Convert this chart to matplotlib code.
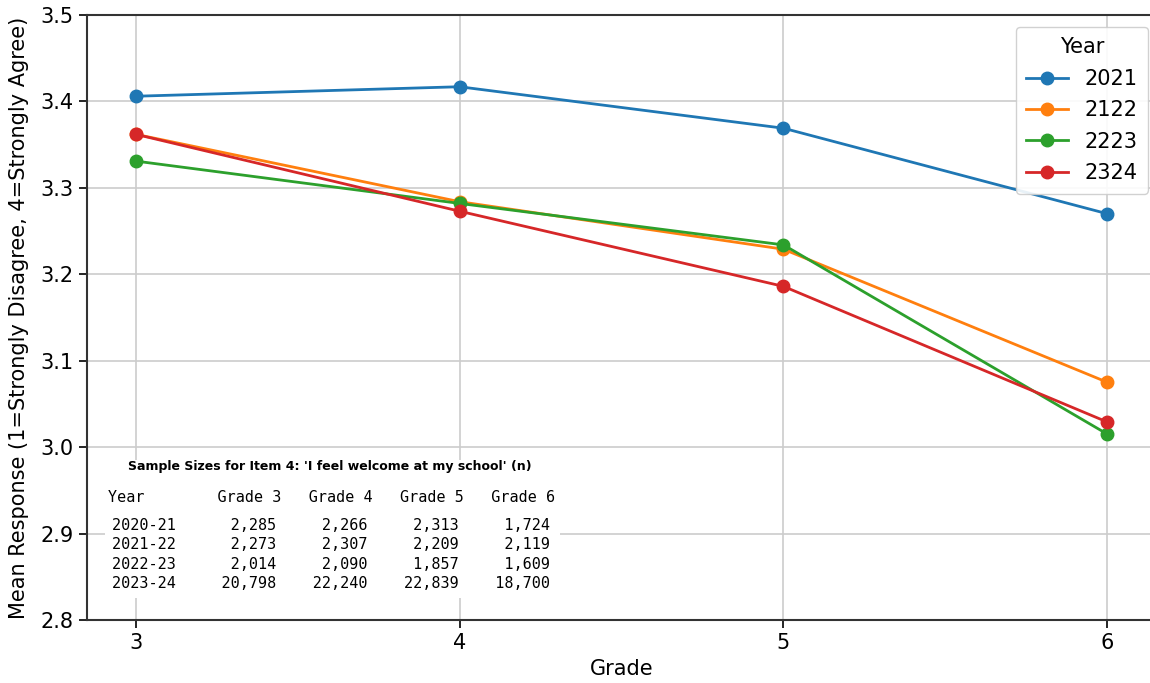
import matplotlib
matplotlib.use("Agg")
import matplotlib.pyplot as plt
from matplotlib.patches import Rectangle

grades = [3, 4, 5, 6]
series_labels = ["2021", "2122", "2223", "2324"]
mean_2021 = [3.406, 3.417, 3.369, 3.270]
mean_2122 = [3.362, 3.284, 3.229, 3.075]
mean_2223 = [3.331, 3.282, 3.234, 3.015]
mean_2324 = [3.362, 3.273, 3.186, 3.029]
colors = ["#1f77b4", "#ff7f0e", "#2ca02c", "#d62728"]

table_years = ["2020-21", "2021-22", "2022-23", "2023-24"]
n_grade3 = [2285, 2273, 2014, 20798]
n_grade4 = [2266, 2307, 2090, 22240]
n_grade5 = [2313, 2209, 1857, 22839]
n_grade6 = [1724, 2119, 1609, 18700]

W = 1069.0
fig = plt.figure(figsize=(11.5, 6.83), dpi=100)
ax = fig.add_axes([87/1150, 63/683, W/1150, 605/683])

for lab, vals, c in zip(series_labels, [mean_2021, mean_2122, mean_2223, mean_2324], colors):
    ax.plot(grades, vals, marker="o", color=c, lw=2, ms=9, label=lab, zorder=3)

ax.set_xlim(2.85, 6.15)
ax.set_ylim(2.8, 3.5)
ax.set_xticks(grades)
yt = [2.8, 2.9, 3.0, 3.1, 3.2, 3.3, 3.4, 3.5]
ax.set_yticks(yt)
ax.set_yticklabels([f"{v:.1f}" for v in yt])
ax.tick_params(labelsize=15, length=6, width=1.2)
ax.grid(True, color="#cccccc", lw=1.2, zorder=0)
ax.set_axisbelow(True)
for s in ax.spines.values():
    s.set_linewidth(1.5)
    s.set_color("#333333")
ax.spines["right"].set_visible(False)
ax.set_xlabel("Grade", fontsize=15, labelpad=4)
ax.set_ylabel("Mean Response (1=Strongly Disagree, 4=Strongly Agree)", fontsize=15, labelpad=8)

leg = ax.legend(title="Year", fontsize=15, title_fontsize=15, loc="upper right",
                bbox_to_anchor=((1148 - 87)/W, (620 - 27)/605), borderaxespad=0,
                framealpha=0.9, borderpad=0.5, labelspacing=0.55)

# white box behind sample size table
ax.add_patch(Rectangle((18/W, 0.0364), 455/W, 0.2281, transform=ax.transAxes,
                       facecolor="white", edgecolor="none", zorder=2))

ax.text((330 - 87)/W, 0.2529, "Sample Sizes for Item 4: 'I feel welcome at my school' (n)",
        transform=ax.transAxes, ha="center", va="center", fontsize=9, fontweight="bold", zorder=4)
header = "Year".ljust(12) + "   ".join(f"Grade {g}" for g in grades)
ax.text((108 - 87)/W, 0.2033, header, transform=ax.transAxes, ha="left", va="center",
        family="DejaVu Sans Mono", fontsize=10.9, zorder=4)
rows = []
for y, a, b, c, d in zip(table_years, n_grade3, n_grade4, n_grade5, n_grade6):
    rows.append(y + f"{a:>11,}" + f"{b:>10,}" + f"{c:>10,}" + f"{d:>10,}")
ax.text((112 - 87)/W, 0.1083, "\n".join(rows), transform=ax.transAxes, ha="left", va="center",
        family="DejaVu Sans Mono", fontsize=10.9, linespacing=1.36, zorder=4)

fig.savefig("out.png", dpi=100)
